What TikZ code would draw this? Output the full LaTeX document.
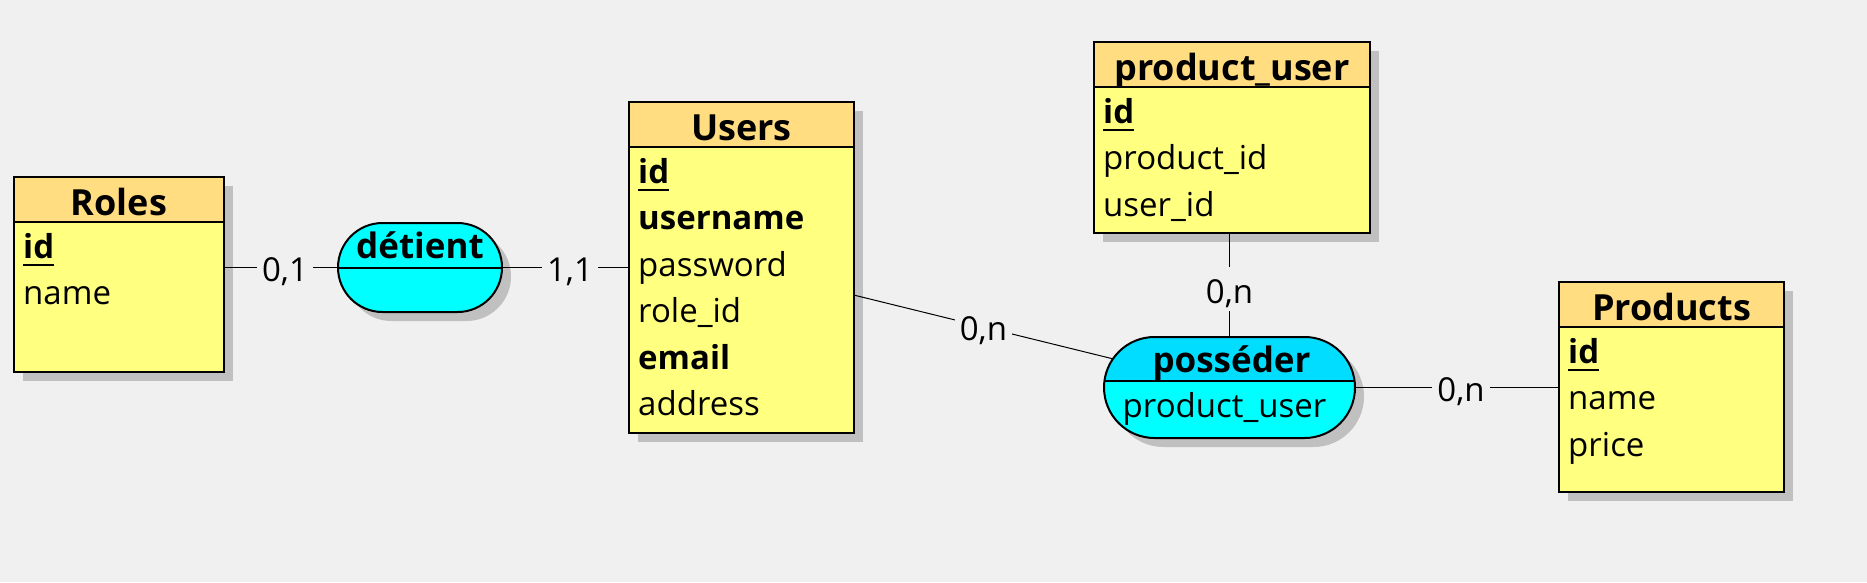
\documentclass[tikz,border=0pt]{standalone}
\usepackage{fontspec}
\setmainfont{Open Sans}
\usetikzlibrary{positioning,fit,shapes.misc,shadows}
\definecolor{bgcol}{RGB}{240,240,240}
\definecolor{headcol}{RGB}{255,221,128}
\definecolor{bodycol}{RGB}{255,255,128}
\definecolor{assoccol}{RGB}{0,255,255}
\definecolor{assoctopcol}{RGB}{0,221,255}
\definecolor{shadowcol}{RGB}{192,192,192}
\newcommand\pkey[1]{\setbox0\hbox{\textbf{#1}}\rlap{\rule[-8pt]{\wd0}{2pt}}\box0}
\tikzset{
  boxshadow/.style={drop shadow={shadow xshift=9pt, shadow yshift=-9pt, fill=shadowcol, opacity=1}},
  enthead/.style={draw, line width=2pt, fill=headcol, boxshadow, inner sep=0pt, outer sep=0pt,
    minimum height=45pt, text height=31pt, text depth=0pt, font=\fontsize{36}{40}\selectfont\bfseries},
  entbody/.style={draw, line width=2pt, fill=bodycol, boxshadow, inner sep=0pt, outer sep=0pt},
  attr/.style={anchor=base west, inner sep=0pt, font=\fontsize{33}{38}\selectfont},
  assoc/.style={rounded rectangle, draw, line width=2pt, fill=assoccol, boxshadow, inner sep=0pt, outer sep=0pt},
  assocname/.style={anchor=base, inner sep=0pt, font=\fontsize{35}{40}\selectfont\bfseries},
  assocattr/.style={anchor=base, inner sep=0pt, font=\fontsize{33}{38}\selectfont},
  link/.style={line width=1pt},
  card/.style={fill=bgcol, inner xsep=5pt, inner ysep=8pt, text height=28pt, text depth=0pt,
    font=\fontsize{33}{38}\selectfont},
}
\begin{document}
\begin{tikzpicture}[x=1pt, y=-1pt]
  \fill[bgcol] (0,0) rectangle (1867,582);

  % entities
  \node[enthead, minimum width=210pt] (roleshead) at (119,199.5) {Roles};
  \node[entbody, minimum width=210pt, minimum height=150pt, below=0pt of roleshead] (rolesbody) {};
  \foreach \txt [count=\i from 0] in {\pkey{id}, name}
    \node[attr] (rolesattr\i) at ([shift={(9,36+46.5*\i)}]rolesbody.north west) {\txt};
  \node[fit=(roleshead)(rolesbody), inner sep=0pt, outer sep=0pt] (roles) {};

  \node[enthead, minimum width=225pt] (usershead) at (741.5,124.5) {Users};
  \node[entbody, minimum width=225pt, minimum height=286pt, below=0pt of usershead] (usersbody) {};
  \foreach \txt [count=\i from 0] in {\pkey{id}, \textbf{username}, password, role\_id, \textbf{email}, address}
    \node[attr] (usersattr\i) at ([shift={(9,36+46.5*\i)}]usersbody.north west) {\txt};
  \node[fit=(usershead)(usersbody), inner sep=0pt, outer sep=0pt] (users) {};

  \node[enthead, minimum width=276pt] (puhead) at (1232,64.5) {product\_user};
  \node[entbody, minimum width=276pt, minimum height=146pt, below=0pt of puhead] (pubody) {};
  \foreach \txt [count=\i from 0] in {\pkey{id}, product\_id, user\_id}
    \node[attr] (puattr\i) at ([shift={(9,36+46.5*\i)}]pubody.north west) {\txt};
  \node[fit=(puhead)(pubody), inner sep=0pt, outer sep=0pt] (pu) {};

  \node[enthead, minimum width=225pt] (prodhead) at (1671.5,304.5) {Products};
  \node[entbody, minimum width=225pt, minimum height=165pt, below=0pt of prodhead] (prodbody) {};
  \foreach \txt [count=\i from 0] in {\pkey{id}, name, price}
    \node[attr] (prodattr\i) at ([shift={(9,36+46.5*\i)}]prodbody.north west) {\txt};
  \node[fit=(prodhead)(prodbody), inner sep=0pt, outer sep=0pt] (prod) {};

  % associations
  \node[assoc, minimum width=164pt, minimum height=89pt,
    path picture={\draw[line width=2pt] (path picture bounding box.west) -- (path picture bounding box.east);}]
    (det) at (420,267.5) {};
  \node[assocname] (detname) at ([shift={(0,-9.5)}]det.center) {détient};

  \node[assoc, minimum width=251pt, minimum height=101pt,
    path picture={\fill[assoctopcol] (path picture bounding box.north west) rectangle ([yshift=6.5pt]path picture bounding box.east);
      \draw[line width=2pt] ([yshift=6.5pt]path picture bounding box.west) -- ([yshift=6.5pt]path picture bounding box.east);}]
    (poss) at (1229.5,387.5) {};
  \node[assocname] (possname) at ([shift={(2,-15.5)}]poss.center) {posséder};
  \node[assocattr] (possattr) at ([shift={(-5,29.5)}]poss.center) {product\_user};

  % links
  \draw[link] (det.west -| roles.east) -- node[card, pos=.535] {0,1} (det.west);
  \draw[link] (det.east) -- node[card, pos=.535] {1,1} (det.east -| users.west);
  \draw[link] (users) -- node[card, pos=.5] {0,n} (poss);
  \draw[link] (pu.south -| poss.north) -- node[card, pos=.54] {0,n} (poss.north);
  \draw[link] (poss.east) -- node[card, pos=.52] {0,n} (poss.east -| prod.west);
\end{tikzpicture}
\end{document}
